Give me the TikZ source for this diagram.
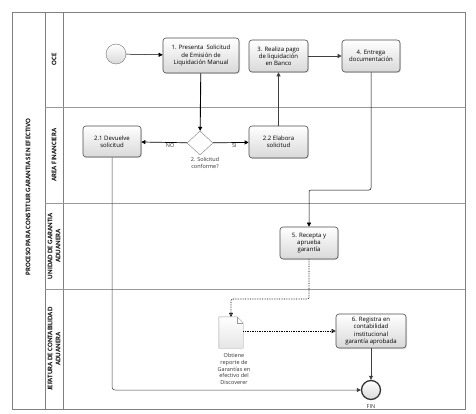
\documentclass[tikz,border=0pt]{standalone}
\usepackage{fontspec}
\setmainfont{Open Sans}
\newfontfamily\carlito{Carlito}
\usetikzlibrary{shapes.geometric,arrows.meta,shadows,positioning}

\tikzset{
  tarea/.style={draw=black!70, line width=0.6pt, rounded corners=3pt,
    top color=white, bottom color=black!15,
    drop shadow={opacity=0.25, shadow xshift=1pt, shadow yshift=-1pt},
    align=center, inner sep=1pt, font=\fontsize{6}{7.2}\selectfont},
  evento/.style={circle, draw=black!55, top color=white, bottom color=black!15,
    minimum size=20pt, inner sep=0pt},
  flujo/.style={-{Triangle[length=4pt,width=4pt]}, line width=0.5pt},
  asoc/.style={densely dotted, line width=0.7pt, -{Triangle[open,length=4pt,width=4pt]}},
  carril/.style={rotate=90, align=center, font=\carlito\bfseries\fontsize{7}{8}\selectfont},
  rotulo/.style={align=center, text=black!80, font=\fontsize{5.5}{6.6}\selectfont}
}

\begin{document}
\begin{tikzpicture}[x=1pt, y=-1pt]
  \useasboundingbox (0,0) rectangle (476,414);

  % Pool y carriles
  \draw[black!50, line width=0.6pt] (12,12) rectangle (465,409);
  \draw[black!50, line width=0.6pt] (45,12) -- (45,409);
  \draw[black!50, line width=0.6pt] (63,12) -- (63,409);
  \foreach \y in {107,203,289}
    \draw[black!40] (45,\y) -- (465,\y);

  % Titulos
  \node[carril] (pool) at (28,197) {PROCESO PARA CONSTITUIR GARANTIAS EN EFECTIVO};
  \node[carril] (oce) at (54,59.5) {OCE};
  \node[carril] (area) at (54,155) {AREA FINANCIERA};
  \node[carril] (unidad) at (54,246) {UNIDAD DE GARANTIA\\ADUANERA};
  \node[carril] (jefatura) at (54,349) {JEFATURA DE CONTABILIDAD\\ADUANERA};

  % Eventos
  \node[evento] (inicio) at (116,54) {};
  \node[evento, draw=black!80, line width=1.3pt, minimum size=19pt] (fin) at (371,390) {};
  \node[rotulo, below=1pt of fin] (finlbl) {FIN};

  % Tareas
  \node[tarea, minimum width=76pt, minimum height=35pt] (t1) at (201,55.5)
    {1. Presenta \ Solicitud\\de Emisión de\\Liquidación Manual};
  \node[tarea, minimum width=59pt, minimum height=32pt] (t3) at (278.5,56)
    {3. Realiza pago\\de liquidación\\en Banco};
  \node[tarea, minimum width=58pt, minimum height=32pt] (t4) at (371,56)
    {4. Entrega\\documentación};
  \node[tarea, minimum width=58pt, minimum height=31pt] (t21) at (112,141.5)
    {2.1 Devuelve\\solicitud};
  \node[tarea, minimum width=59pt, minimum height=32pt] (t22) at (278.5,142)
    {2.2 Elabora\\solicitud};
  \node[tarea, minimum width=58pt, minimum height=32pt] (t5) at (309,243)
    {5. Recepta y\\aprueba\\garantía};
  \node[tarea, minimum width=70pt, minimum height=34pt] (t6) at (371,331)
    {6. Registra en\\contabilidad\\institucional\\garantía aprobada};

  % Decision
  \node[diamond, draw=black!50, fill=white, minimum width=26pt, minimum height=24pt,
    inner sep=0pt] (dec) at (200,143) {};
  \node[rotulo] (declbl) at (205,163) {2. Solicitud\\conforme?};

  % Documento
  \node[minimum width=24pt, minimum height=31pt, inner sep=0pt] (doc) at (231,332.5) {};
  \draw[black!40, top color=white, bottom color=black!10]
    (doc.north west) -- ([xshift=-6pt]doc.north east) -- ([yshift=-6pt]doc.north east)
    -- (doc.south east) -- (doc.south west) -- cycle;
  \draw[black!40] ([xshift=-6pt]doc.north east) -- ++(0,6) -- ++(6,0);
  \node[rotulo, below=2pt of doc, xshift=3pt] (doclbl)
    {Obtiene\\reporte de\\Garantías en\\efectivo del\\Discoverer};

  % Flujos
  \draw[flujo] (inicio) -- (t1);
  \draw[flujo, line width=0.9pt] (t1) -- (dec);
  \draw[flujo, line width=0.7pt] (dec) -- node[rotulo, below, pos=0.37, inner sep=1pt] {NO} (t21);
  \draw[flujo, line width=0.7pt] (dec) -- node[rotulo, below, pos=0.6, inner sep=1pt] {SI} (t22);
  \draw[flujo, black!75] (t22) -- (t3);
  \draw[flujo, black!75] (t3) -- (t4);
  \draw[flujo, rounded corners=2pt] (t4.south) -- (t4.south |- 0,190) -| (t5.north);
  \draw[asoc, rounded corners=2pt] (t5.south) -- (t5.south |- 0,299) -| (doc.north);
  \draw[asoc] (doc.east |- t6.west) -- (t6.west);
  \draw[flujo, black!75] (t6) -- (fin);
  \draw[flujo, black!75, rounded corners=3pt] (t21.south) |- (fin.west);
\end{tikzpicture}
\end{document}
